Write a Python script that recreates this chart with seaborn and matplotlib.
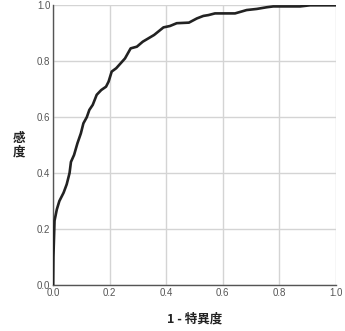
import matplotlib
matplotlib.use("Agg")
import matplotlib.pyplot as plt
import seaborn as sns
import pandas as pd

fpr = [0.0, 0.001, 0.005, 0.013, 0.022, 0.037, 0.048, 0.058, 0.063, 0.074, 0.086, 0.098,
       0.107, 0.119, 0.128, 0.14, 0.154, 0.17, 0.187, 0.196, 0.207, 0.223, 0.239, 0.254,
       0.274, 0.296, 0.317, 0.337, 0.357, 0.39, 0.413, 0.437, 0.48, 0.508, 0.531, 0.549,
       0.572, 0.643, 0.684, 0.72, 0.755, 0.778, 0.873, 0.908, 1.0]
tpr = [0.0, 0.10, 0.23, 0.27, 0.30, 0.33, 0.36, 0.40, 0.44, 0.465, 0.507, 0.542,
       0.578, 0.60, 0.626, 0.644, 0.68, 0.697, 0.709, 0.727, 0.763, 0.775, 0.793, 0.81,
       0.846, 0.852, 0.87, 0.882, 0.894, 0.921, 0.926, 0.936, 0.938, 0.953, 0.962, 0.965,
       0.971, 0.971, 0.983, 0.987, 0.993, 0.996, 0.996, 1.0, 1.0]
ticks = [0.0, 0.2, 0.4, 0.6, 0.8, 1.0]
tick_labels = ["0.0", "0.2", "0.4", "0.6", "0.8", "1.0"]
xlabel = "1 - 特異度"
ylabel = "感\n度"

sns.set_theme(style="white")
plt.rcParams['font.family'] = ['Noto Sans CJK JP', 'DejaVu Sans']

df = pd.DataFrame({"fpr": fpr, "tpr": tpr})
fig = plt.figure(figsize=(3.45, 3.31), dpi=100)
ax = fig.add_axes([0.154, 0.139, 0.820, 0.845])
sns.lineplot(data=df, x="fpr", y="tpr", ax=ax, color="#222222", linewidth=1.9, sort=False, zorder=3)

ax.set_xlim(0, 1)
ax.set_ylim(0, 1)
ax.set_xticks(ticks)
ax.set_yticks(ticks)
ax.set_xticklabels(tick_labels, family="Liberation Sans")
ax.set_yticklabels(tick_labels, family="Liberation Sans")
ax.tick_params(axis="both", labelsize=7, colors="#555555", length=0, pad=2)
ax.grid(True, color="#d4d4d4", linewidth=1.0)
for s in ["top", "right"]:
    ax.spines[s].set_visible(False)
for s in ["left", "bottom"]:
    ax.spines[s].set_color("#555555")
    ax.spines[s].set_linewidth(1.0)
ax.set_xlabel(xlabel, fontsize=9, fontweight="bold", color="#222222", labelpad=11)
ax.set_ylabel(ylabel, fontsize=9, fontweight="bold", color="#222222", rotation=0,
              labelpad=13, va="center", linespacing=1.0)
fig.savefig("out.png", dpi=100)
